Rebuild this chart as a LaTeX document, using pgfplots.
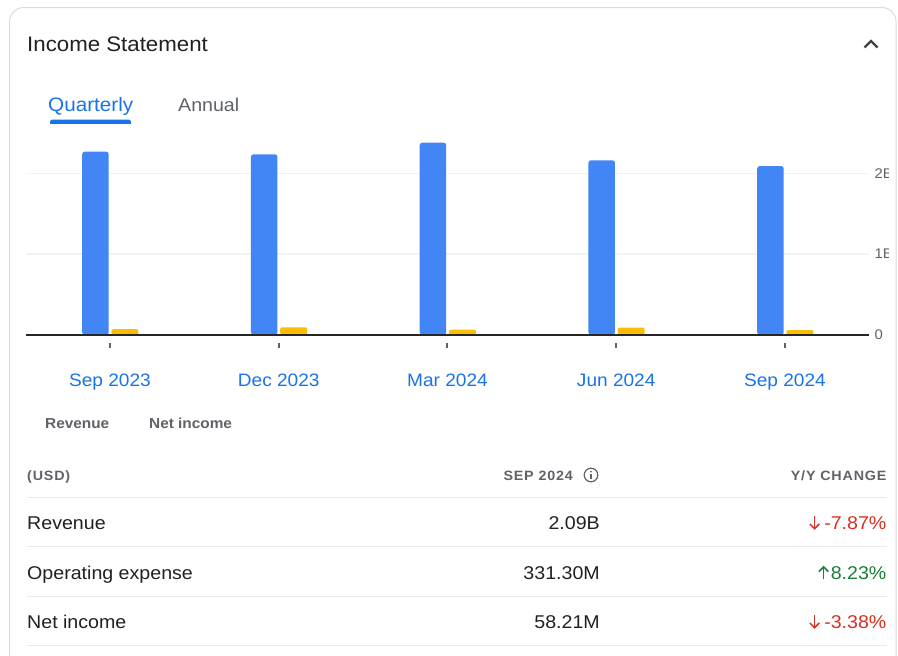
\documentclass[border=0pt]{standalone}
\usepackage{pgfplots}
\pgfplotsset{compat=1.18}
\usepackage{pgfplotstable}
\usetikzlibrary{calc}
\usepackage{fontspec}
\setmainfont{Liberation Sans}[FakeStretch=1.06]
\newfontfamily\hdr{Liberation Sans}[FakeStretch=1.06,LetterSpace=6]
\definecolor{gblue}{HTML}{4285F4}
\definecolor{gyellow}{HTML}{FBBC04}
\definecolor{lblue}{HTML}{1A73E8}
\definecolor{dark}{HTML}{202124}
\definecolor{mgray}{HTML}{5F6368}
\definecolor{gridc}{HTML}{F1F3F4}
\definecolor{sepc}{HTML}{E8EAED}
\definecolor{cardc}{HTML}{DADCE0}
\definecolor{gred}{HTML}{D93025}
\definecolor{ggreen}{HTML}{188038}

\pgfplotstableread{
idx revenue netincome
0 2.268 0.068
1 2.235 0.092
2 2.379 0.062
3 2.161 0.088
4 2.090 0.058
}\datatable

\begin{document}
\begin{tikzpicture}
\useasboundingbox (0pt,0pt) rectangle (898pt,-656pt);
\begin{scope}[x=1pt,y=-1pt]
\fill[white] (0,0) rectangle (898,656);
\draw[cardc, line width=1pt, rounded corners=14pt] (9.5,720) rectangle (896,7.5);
% title
\node[anchor=base west, inner sep=0pt, text=dark, font=\fontsize{21}{24}\selectfont] at (27,51) {Income Statement};
\draw[dark!85, line width=2.2pt] (864.5,47.5) -- (871,41) -- (877.5,47.5);
% tabs
\node[anchor=base west, inner sep=0pt, text=lblue, font=\fontsize{19.5}{22}\selectfont] at (48,111) {Quarterly};
\node[anchor=base west, inner sep=0pt, text=mgray, font=\fontsize{18.5}{22}\selectfont] at (178,111) {Annual};
\fill[lblue, rounded corners=2.5pt] (50,126) rectangle (131,119.5);
\fill[lblue] (50,126) rectangle (131,122.5);
\fill[white] (40,124) rectangle (140,130);
% legend
\node[anchor=base west, inner sep=0pt, text=mgray, font=\fontsize{14.5}{17}\selectfont\bfseries] at (45,428.3) {Revenue};
\node[anchor=base west, inner sep=0pt, text=mgray, font=\fontsize{14.5}{17}\selectfont\bfseries] at (149,428.3) {Net income};
% table header
\node[anchor=base west, inner sep=0pt, text=mgray, font=\hdr\fontsize{13.5}{16}\selectfont\bfseries] at (27,480) {(USD)};
\node[anchor=base east, inner sep=0pt, text=mgray, font=\hdr\fontsize{13.5}{16}\selectfont\bfseries] at (573,480) {SEP 2024};
\draw[mgray, line width=1.2pt] (591,475) circle (6.8);
\fill[mgray] (591,471.6) circle (0.95);
\draw[mgray, line width=1.4pt] (591,474.2) -- (591,479);
\node[anchor=base east, inner sep=0pt, text=mgray, font=\hdr\fontsize{13.5}{16}\selectfont\bfseries] at (886.6,480) {Y/Y CHANGE};
% separators
\foreach \yy in {497.7,546.7,596.7,645.7} {\draw[sepc, line width=1.4pt] (27,\yy) -- (886.6,\yy);}
% rows
\foreach \lab/\val/\yy in {Revenue/2.09B/529.3, Operating expense/331.30M/579.3, Net income/58.21M/628.3} {
  \node[anchor=base west, inner sep=0pt, text=dark, font=\fontsize{18.5}{22}\selectfont] at (27,\yy) {\lab};
  \node[anchor=base east, inner sep=0pt, text=dark, font=\fontsize{18.5}{22}\selectfont] at (600,\yy) {\val};
}
\node[anchor=base east, inner sep=0pt, text=gred, font=\fontsize{18.5}{22}\selectfont] (c1) at (886.6,529.3) {-7.87\%};
\node[anchor=base east, inner sep=0pt, text=ggreen, font=\fontsize{18.5}{22}\selectfont] (c2) at (886.6,579.3) {8.23\%};
\node[anchor=base east, inner sep=0pt, text=gred, font=\fontsize{18.5}{22}\selectfont] (c3) at (886.6,628.3) {-3.38\%};
% arrows
\foreach \n in {c1,c3} {
  \draw[gred, line width=1.5pt] ($(\n.base west)+(-9.5,-13)$) -- ($(\n.base west)+(-9.5,-0.8)$);
  \draw[gred, line width=1.5pt] ($(\n.base west)+(-14.2,-5.3)$) -- ($(\n.base west)+(-9.5,-0.6)$) -- ($(\n.base west)+(-4.8,-5.3)$);
}
\draw[ggreen, line width=1.5pt] ($(c2.base west)+(-7,0)$) -- ($(c2.base west)+(-7,-12.2)$);
\draw[ggreen, line width=1.5pt] ($(c2.base west)+(-11.7,-7.7)$) -- ($(c2.base west)+(-7,-12.4)$) -- ($(c2.base west)+(-2.3,-7.7)$);
\end{scope}
\begin{scope}
\clip (0pt,0pt) rectangle (888pt,-656pt);
\begin{axis}[
  at={(25.6pt,-334.7pt)}, anchor=south west,
  width=843.75pt, height=201.75pt, scale only axis,
  xmin=-0.5, xmax=4.5, ymin=0, ymax=2.5,
  axis x line*=bottom, axis y line*=right,
  x axis line style={draw=none},
  y axis line style={draw=none},
  xtick={0,1,2,3,4},
  xticklabels={Sep 2023,Dec 2023,Mar 2024,Jun 2024,Sep 2024},
  xtick align=outside,
  major tick length=5pt,
  xtick style={draw=mgray, line width=2pt, yshift=-8pt},
  ytick={0,1,2},
  yticklabels={0,1B,2B},
  ytick style={draw=none},
  ymajorgrids,
  grid style={draw=gridc, line width=1.2pt},
  xticklabel style={font=\fontsize{18}{20}\selectfont, text=lblue, anchor=north, inner sep=0pt, yshift=-34pt},
  yticklabel style={font=\fontsize{14}{16}\selectfont, text=mgray, anchor=west, inner sep=0pt, xshift=5pt},
  clip=false,
]
\addplot[ybar, bar width=26.5pt, bar shift=-14.5pt, fill=gblue, draw=none, rounded corners=2.5pt] table[x=idx,y=revenue]{\datatable};
\addplot[ybar, bar width=27pt, bar shift=15pt, fill=gyellow, draw=none, rounded corners=2pt] table[x=idx,y=netincome]{\datatable};
\draw[black!85, line width=1.6pt] (axis cs:-0.5,0) -- (axis cs:4.5,0);
\end{axis}
\end{scope}
\end{tikzpicture}
\end{document}
